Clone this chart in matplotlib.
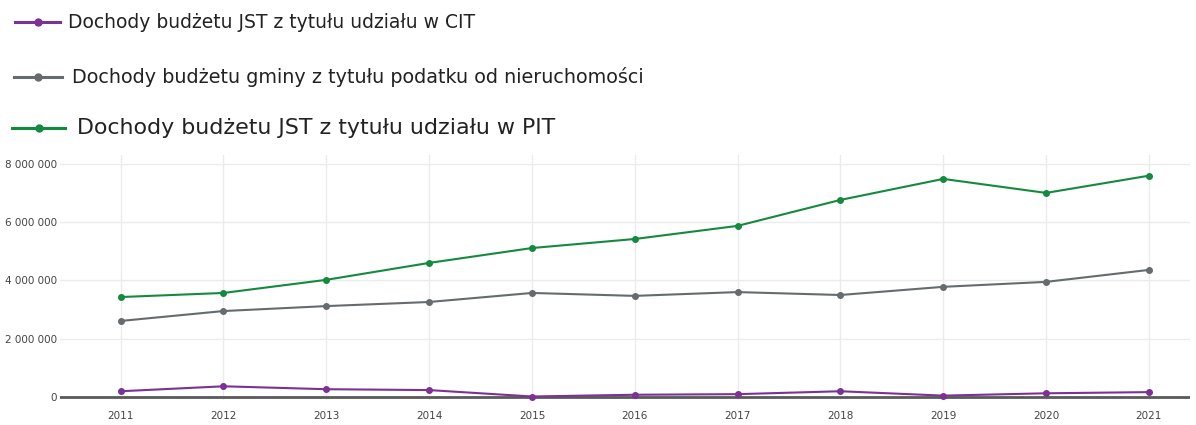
import matplotlib
matplotlib.use("Agg")
import matplotlib.pyplot as plt
from matplotlib.lines import Line2D
from matplotlib.ticker import FuncFormatter

years = [2011, 2012, 2013, 2014, 2015, 2016, 2017, 2018, 2019, 2020, 2021]
pit = [3430000, 3570000, 4020000, 4600000, 5110000, 5420000, 5870000, 6760000, 7480000, 7000000, 7590000]
nieruch = [2610000, 2950000, 3120000, 3260000, 3570000, 3470000, 3600000, 3500000, 3780000, 3950000, 4360000]
cit = [200000, 370000, 270000, 240000, 20000, 80000, 100000, 200000, 50000, 130000, 170000]

labels = [
    "Dochody budżetu JST z tytułu udziału w CIT",
    "Dochody budżetu gminy z tytułu podatku od nieruchomości",
    "Dochody budżetu JST z tytułu udziału w PIT",
]
colors = ["#7b3294", "#666b6e", "#148a3e"]
yticks = [0, 2000000, 4000000, 6000000, 8000000]

W, H = 1196, 425
fig = plt.figure(figsize=(W / 100, H / 100), dpi=100)
plt.rcParams["font.family"] = ["DejaVu Sans"]

ax = fig.add_axes([60 / W, 25 / H, 1130 / W, 245 / H])
for vals, c in zip([cit, nieruch, pit], colors):
    ax.plot(years, vals, color=c, lw=1.5, marker="o", ms=4, zorder=3)

ax.set_xlim(2010.41, 2021.4)
ax.set_ylim(-100000, 8300000)
ax.set_xticks(years)
ax.set_yticks(yticks)
ax.yaxis.set_major_formatter(FuncFormatter(lambda v, p: f"{int(v):,}".replace(",", " ")))
ax.grid(True, color="#ebebeb", lw=1)
ax.axhline(0, color="#5a5a5a", lw=2, zorder=2)
for s in ax.spines.values():
    s.set_visible(False)
ax.tick_params(length=0, labelsize=7.5, colors="#444444", pad=8)
ax.tick_params(axis="y", pad=2)

# legend drawn as separate rows, like the stacked screenshot
rows = [(22, 15, 60, 68, 407, 13), (77, 14, 62, 72, 573, 14), (128, 12, 65, 77, 478, 15)]
renderer = fig.canvas.get_renderer()
for (y, x0, x1, tx, tw, fs), lab, c in zip(rows, labels, colors):
    yy = 1 - y / H
    fig.add_artist(Line2D([x0 / W, x1 / W], [yy, yy], color=c, lw=2.2))
    fig.add_artist(Line2D([(x0 + x1) / 2 / W], [yy], color=c, marker="o", ms=5))
    t = fig.text(tx / W, yy, lab, fontsize=fs, va="center", ha="left", color="#222222")
    w = t.get_window_extent(renderer).width
    t.set_fontsize(fs * tw / w)

fig.savefig("out.png", dpi=100)
